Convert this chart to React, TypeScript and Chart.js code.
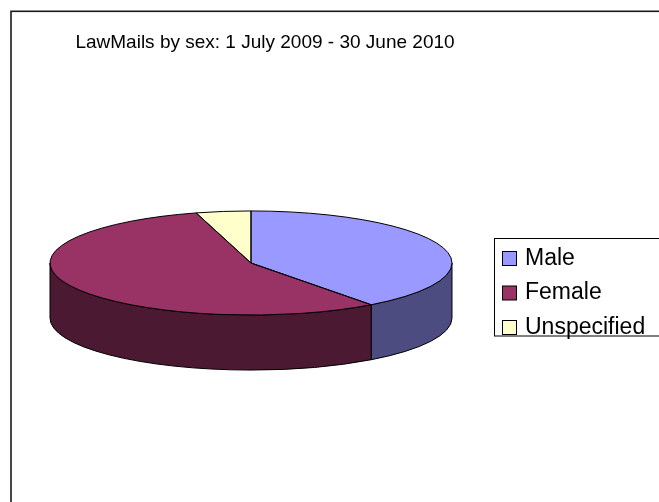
import React, { useEffect, useRef } from "react";
import { Chart, registerables } from "chart.js";

Chart.register(...registerables);

const TITLE = "LawMails by sex: 1 July 2009 - 30 June 2010";
const categories = ["Male", "Female", "Unspecified"];
const shares = [39.8, 55.8, 4.4];
const topColors = ["#9999FF", "#993366", "#FFFFCC"];
const sideColors = ["#4C4C80", "#4C1933", "#80806A"];

const FONT = "'Liberation Sans', Arial, sans-serif";
const TILT = 0.259; // vertical squash of the pie (ry / rx)
const DEPTH = 55; // thickness of the 3D pie in px
const SHIFT_X = -14; // pie offset relative to title centre

const geometry = (chart: any) => {
  const arcs = chart.getDatasetMeta(0).data as any[];
  const a0 = arcs[0];
  const R = a0.outerRadius;
  return { arcs, ox: a0.x, cx: a0.x + SHIFT_X, cy: a0.y, R, ry: R * TILT };
};

const pie3d = {
  id: "pie3d",
  beforeDraw(chart: any) {
    const ctx = chart.ctx;
    ctx.save();
    ctx.fillStyle = "#ffffff";
    ctx.fillRect(0, 0, chart.width, chart.height);
    ctx.strokeStyle = "#1a1a1a";
    ctx.lineWidth = 1.6;
    ctx.strokeRect(11, 11.3, chart.width + 50, chart.height + 50);
    ctx.restore();
  },
  beforeDatasetsDraw(chart: any) {
    const ctx = chart.ctx;
    const { arcs, ox, cx, cy, R, ry } = geometry(chart);
    ctx.save();
    arcs.forEach((arc: any, i: number) => {
      const s = Math.max(arc.startAngle, 0);
      const e = Math.min(arc.endAngle, Math.PI);
      if (e <= s) return;
      ctx.beginPath();
      ctx.ellipse(cx, cy, R, ry, 0, s, e);
      ctx.lineTo(cx + R * Math.cos(e), cy + ry * Math.sin(e) + DEPTH);
      ctx.ellipse(cx, cy + DEPTH, R, ry, 0, e, s, true);
      ctx.closePath();
      ctx.fillStyle = sideColors[i];
      ctx.fill();
      ctx.strokeStyle = "#000";
      ctx.lineWidth = 1;
      ctx.stroke();
    });
    ctx.restore();
    ctx.save();
    ctx.translate(cx, cy);
    ctx.scale(1, TILT);
    ctx.translate(-ox, -cy);
  },
  afterDatasetsDraw(chart: any) {
    const ctx = chart.ctx;
    ctx.restore();
    const { arcs, cx, cy, R, ry } = geometry(chart);
    ctx.save();
    ctx.strokeStyle = "#000";
    ctx.lineWidth = 1;
    arcs.forEach((arc: any) => {
      ctx.beginPath();
      ctx.moveTo(cx, cy);
      ctx.ellipse(cx, cy, R, ry, 0, arc.startAngle, arc.endAngle);
      ctx.closePath();
      ctx.stroke();
    });
    ctx.restore();
  },
  afterDraw(chart: any) {
    const ctx = chart.ctx;
    const labels = chart.data.labels as string[];
    const colors = chart.data.datasets[0].backgroundColor as string[];
    ctx.save();
    ctx.strokeStyle = "#000";
    ctx.lineWidth = 1;
    ctx.strokeRect(494.5, 238.5, 300, 97.5);
    ctx.font = `23px ${FONT}`;
    ctx.textBaseline = "middle";
    ctx.textAlign = "left";
    labels.forEach((lab, i) => {
      const y = 258.5 + i * 34.5;
      ctx.fillStyle = colors[i];
      ctx.fillRect(502.5, y - 7, 14, 14);
      ctx.strokeRect(502.5, y - 7, 14, 14);
      ctx.fillStyle = "#000";
      ctx.fillText(lab, 525, y);
    });
    ctx.restore();
  },
};

export default function App() {
  const ref = useRef<HTMLCanvasElement | null>(null);
  useEffect(() => {
    if (!ref.current) return;
    const chart = new Chart(ref.current, {
      type: "pie",
      data: {
        labels: categories,
        datasets: [
          {
            data: shares,
            backgroundColor: topColors,
            borderWidth: 0,
            clip: false,
          } as any,
        ],
      },
      options: {
        responsive: false,
        animation: false,
        events: [],
        layout: { padding: { left: 64, right: 193, top: 0, bottom: 38 } },
        plugins: {
          legend: { display: false },
          tooltip: { enabled: false },
          title: {
            display: true,
            text: TITLE,
            color: "#000",
            font: { family: FONT, size: 19, weight: "normal", lineHeight: 1.2 },
            padding: { top: 31, bottom: 8.2 },
          },
        },
      } as any,
      plugins: [pie3d as any],
    });
    return () => chart.destroy();
  }, []);
  return (
    <canvas
      ref={ref}
      width={659}
      height={502}
      style={{ position: "fixed", left: 0, top: 0, display: "block" }}
    />
  );
}
